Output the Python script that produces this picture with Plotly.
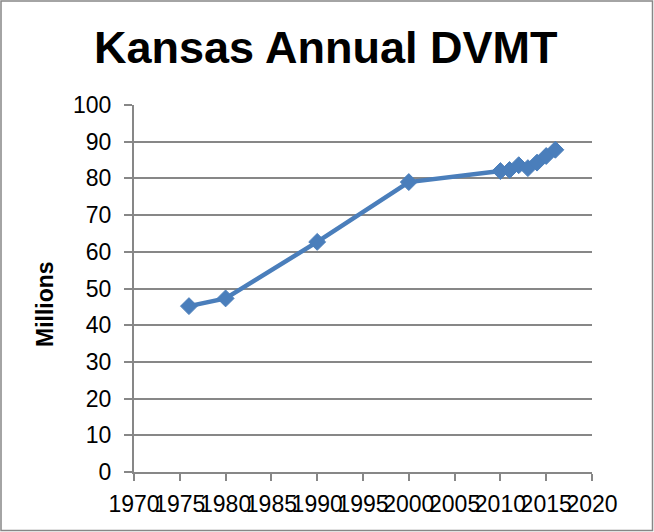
import plotly.graph_objects as go

years = [1976, 1980, 1990, 2000, 2010, 2011, 2012, 2013, 2014, 2015, 2016]
dvmt = [45.2, 47.3, 62.7, 79.0, 82.0, 82.3, 83.6, 82.8, 84.3, 86.1, 87.8]
x_ticks = list(range(1970, 2021, 5))
y_ticks = list(range(0, 101, 10))

W, H = 654, 532
L, R, T, B = 134, 62, 105, 60
pw, ph = W - L - R, H - T - B

def px(xp):
    return (xp - L) / pw

def py(yp):
    return (H - B - yp) / ph

fig = go.Figure()
fig.add_trace(go.Scatter(
    x=years, y=dvmt, mode="lines+markers",
    line=dict(color="#4A7EBB", width=4.5),
    marker=dict(symbol="diamond", size=13, color="#4A7EBB",
                line=dict(color="#4A7EBB", width=1)),
    showlegend=False,
))

font = "Liberation Sans, Arial, sans-serif"
fig.update_layout(
    width=W, height=H,
    margin=dict(l=L, r=R, t=T, b=B),
    paper_bgcolor="white", plot_bgcolor="white",
    font=dict(family=font, color="black", size=23),
    xaxis=dict(range=[1970, 2020], tickmode="array", tickvals=x_ticks,
               ticktext=[str(t) for t in x_ticks], tickangle=0,
               automargin=False,
               showgrid=False, zeroline=False, showline=True,
               linecolor="#878787", linewidth=2, ticks="outside",
               ticklen=7, tickwidth=2, tickcolor="#878787",
               ticklabelstandoff=3,
               tickfont=dict(size=23, family=font)),
    yaxis=dict(range=[0, 100], tickmode="array", tickvals=y_ticks,
               automargin=False,
               showgrid=True, gridcolor="#878787", gridwidth=2,
               zeroline=False, showline=True,
               linecolor="#878787", linewidth=2, ticks="outside",
               ticklen=8, tickwidth=2, tickcolor="#878787",
               ticklabelstandoff=8,
               tickfont=dict(size=23, family=font)),
    annotations=[
        dict(text="<b>Kansas Annual DVMT</b>", xref="paper", yref="paper",
             x=px(325), y=py(47), xanchor="center", yanchor="middle",
             showarrow=False, font=dict(size=45, family=font, color="black")),
        dict(text="<b>Millions</b>", xref="paper", yref="paper",
             x=px(45), y=py(304), xanchor="center", yanchor="middle",
             textangle=-90, showarrow=False,
             font=dict(size=23, family=font, color="black")),
    ],
    shapes=[
        dict(type="rect", xref="paper", yref="paper",
             x0=px(1), x1=px(652.5), y0=py(530.5), y1=py(1),
             line=dict(color="#878787", width=1.5), fillcolor="rgba(0,0,0,0)",
             layer="above"),
    ],
)

fig.write_html("out.html",
               config={"displayModeBar": False},
               post_script="document.body.style.margin='0';document.body.style.overflow='hidden';")
